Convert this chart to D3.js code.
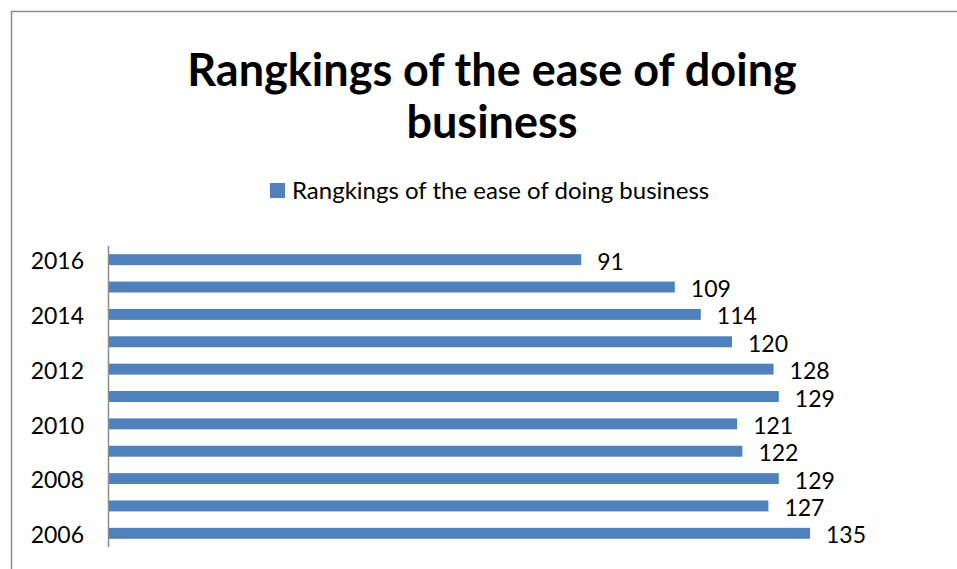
<!DOCTYPE html>
<html>
<head>
<meta charset="utf-8">
<script src="https://cdn.jsdelivr.net/npm/d3@7"></script>
<style>
  body { margin: 0; background: #fff; }
  svg { display: block; font-family: Lato, "Open Sans", sans-serif; }
</style>
</head>
<body>
<div id="chart"></div>
<script>
// chart data, top bar first
const years = ["2016", "2015", "2014", "2013", "2012", "2011", "2010", "2009", "2008", "2007", "2006"];
const rankings = [91, 109, 114, 120, 128, 129, 121, 122, 129, 127, 135];
const yearLabels = ["2016", "2014", "2012", "2010", "2008", "2006"];
const seriesName = "Rangkings of the ease of doing business";
const titleLines = ["Rangkings of the ease of doing", "business"];

const width = 957, height = 569;
const barColor = "#4f81bd";

const svg = d3.select("#chart").append("svg")
    .attr("width", width)
    .attr("height", height);

// outer chart border
svg.append("rect")
    .attr("x", 11.5).attr("y", 11.5)
    .attr("width", width + 20).attr("height", height + 20)
    .attr("fill", "none")
    .attr("stroke", "#8c8c8c")
    .attr("stroke-width", 1.5);

// title
svg.append("g").selectAll("text")
    .data(titleLines)
    .join("text")
    .attr("x", 492)
    .attr("y", (d, i) => 86 + i * 52)
    .attr("text-anchor", "middle")
    .attr("font-size", "45px")
    .attr("font-weight", "bold")
    .attr("fill", "#000")
    .text(d => d);

// legend
const legend = svg.append("g").attr("transform", "translate(270,183)");
legend.append("rect")
    .attr("width", 15).attr("height", 15)
    .attr("fill", barColor);
legend.append("text")
    .attr("x", 22).attr("y", 16)
    .attr("font-size", "24px")
    .attr("fill", "#000")
    .text(seriesName);

// scales
const xScale = d3.scaleLinear().domain([0, 160]).range([108, 940]);
const yScale = d3.scaleBand().domain(years).range([246, 547]).paddingInner(0.6).paddingOuter(0.3);

// bars
svg.append("g").selectAll("rect")
    .data(years)
    .join("rect")
    .attr("x", xScale(0))
    .attr("y", d => yScale(d))
    .attr("width", (d, i) => xScale(rankings[i]) - xScale(0))
    .attr("height", yScale.bandwidth())
    .attr("fill", barColor);

// value labels
svg.append("g").selectAll("text")
    .data(years)
    .join("text")
    .attr("x", (d, i) => xScale(rankings[i]) + 16)
    .attr("y", d => yScale(d) + yScale.bandwidth() / 2 + 10)
    .attr("font-size", "23px")
    .attr("fill", "#000")
    .text((d, i) => rankings[i]);

// category axis
const yAxis = svg.append("g")
    .attr("transform", "translate(108,0)")
    .call(d3.axisLeft(yScale).tickSize(0).tickPadding(24)
        .tickValues(yearLabels));
yAxis.select(".domain")
    .attr("d", "M0.5,246V547")
    .attr("stroke", "#8c8c8c")
    .attr("stroke-width", 1.5);
yAxis.selectAll("text")
    .attr("font-size", "23px")
    .attr("font-family", "Lato, 'Open Sans', sans-serif")
    .attr("fill", "#000")
    .attr("dy", "0.42em");
</script>
</body>
</html>
